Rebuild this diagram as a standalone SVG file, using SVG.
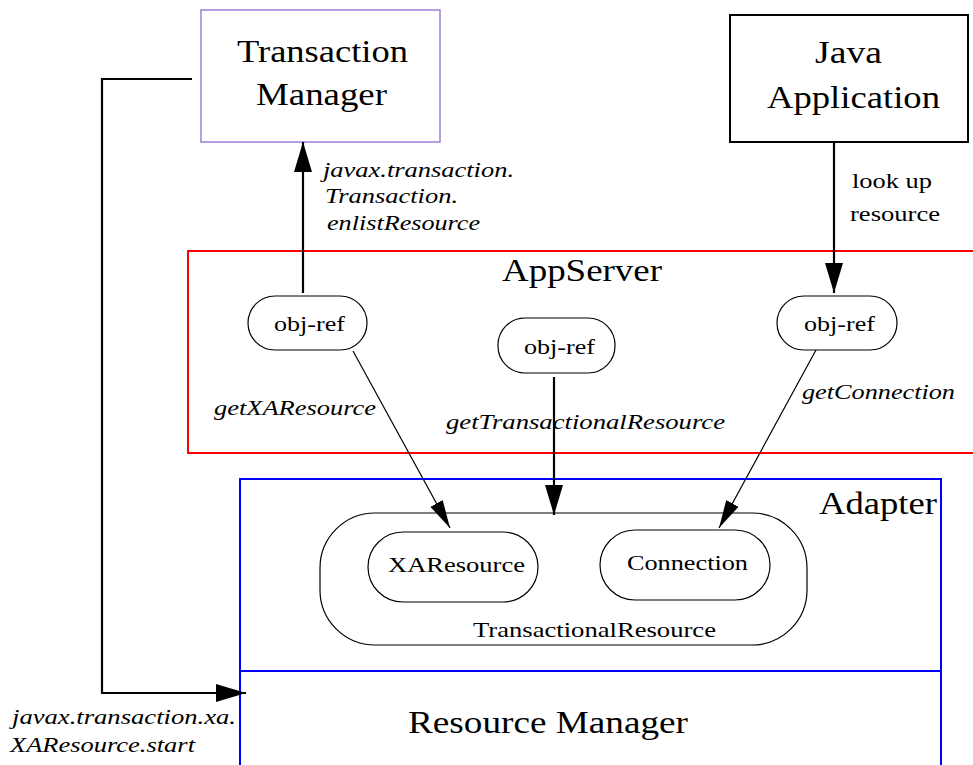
<svg xmlns="http://www.w3.org/2000/svg" width="973" height="765" viewBox="0 0 973 765">
<style>
text{font-family:'Liberation Serif','Times New Roman','DejaVu Serif',serif;fill:#000}
.big{font-size:31px}
.mid{font-size:22px}
.sm{font-size:21px}
.it{font-style:italic;font-size:22px}
.pill{fill:#fff;stroke:#000;stroke-width:1.2}
.thick{fill:none;stroke:#000;stroke-width:2.2}
.thin{fill:none;stroke:#000;stroke-width:1.2}
</style>
<defs>
<marker id="ah" viewBox="0 0 30 18" refX="30" refY="9" markerWidth="30" markerHeight="18" markerUnits="userSpaceOnUse" orient="auto"><path d="M0,0 L30,9 L0,18 Z" fill="#000"/></marker>
<marker id="ahs" viewBox="0 0 28 14" refX="28" refY="7" markerWidth="28" markerHeight="14" markerUnits="userSpaceOnUse" orient="auto"><path d="M0,0 L28,7 L0,14 Z" fill="#000"/></marker>
</defs>
<rect width="973" height="765" fill="#fff"/>
<g id="appserver">
<path d="M975,251 L188,251 L188,453 L975,453" fill="none" stroke="#f00" stroke-width="2"/>
<text class="big" x="502" y="281" textLength="160" lengthAdjust="spacingAndGlyphs">AppServer</text>
</g>
<g id="adapter">
<path d="M240,770 L240,479 L941,479 L941,770" fill="none" stroke="#00f" stroke-width="2"/>
<text class="big" x="819" y="514" textLength="118" lengthAdjust="spacingAndGlyphs">Adapter</text>
</g>
<g id="resource-manager">
<line x1="240" y1="671" x2="941" y2="671" stroke="#00f" stroke-width="2"/>
<text class="big" x="408" y="733" textLength="280" lengthAdjust="spacingAndGlyphs">Resource Manager</text>
</g>
<g id="transaction-manager">
<rect x="201" y="10" width="239" height="132" fill="#fff" stroke="#9b80d8" stroke-width="1.5"/>
<text class="big" x="237" y="62" textLength="171" lengthAdjust="spacingAndGlyphs">Transaction</text>
<text class="big" x="256" y="105" textLength="131" lengthAdjust="spacingAndGlyphs">Manager</text>
</g>
<g id="java-application">
<rect x="730" y="15" width="238" height="127" fill="#fff" stroke="#000" stroke-width="2"/>
<text class="big" x="815" y="63" textLength="67" lengthAdjust="spacingAndGlyphs">Java</text>
<text class="big" x="767" y="108" textLength="173" lengthAdjust="spacingAndGlyphs">Application</text>
</g>
<g id="objref1">
<rect class="pill" x="248" y="296" width="119" height="54" rx="27"/>
<text class="mid" x="274" y="331" textLength="71" lengthAdjust="spacingAndGlyphs">obj-ref</text>
</g>
<g id="objref2">
<rect class="pill" x="498" y="318" width="117" height="55" rx="27"/>
<text class="mid" x="524" y="354" textLength="71" lengthAdjust="spacingAndGlyphs">obj-ref</text>
</g>
<g id="objref3">
<rect class="pill" x="777" y="296" width="120" height="54" rx="27"/>
<text class="mid" x="804" y="331" textLength="71" lengthAdjust="spacingAndGlyphs">obj-ref</text>
</g>
<g id="transactional-resource">
<rect class="pill" x="320" y="513" width="487" height="132" rx="55"/>
<text class="sm" x="473" y="637" textLength="243" lengthAdjust="spacingAndGlyphs">TransactionalResource</text>
</g>
<g id="xaresource">
<rect class="pill" x="368" y="532" width="170" height="70" rx="35"/>
<text class="sm" x="388" y="572" textLength="137" lengthAdjust="spacingAndGlyphs">XAResource</text>
</g>
<g id="connection">
<rect class="pill" x="600" y="530" width="170" height="70" rx="35"/>
<text class="sm" x="627" y="570" textLength="121" lengthAdjust="spacingAndGlyphs">Connection</text>
</g>
<g id="connectors">
<path class="thick" d="M192,79 L102,79 L102,693 L246,693" marker-end="url(#ah)"/>
<line class="thick" x1="303" y1="293" x2="303" y2="142" marker-end="url(#ah)"/>
<line class="thick" x1="834" y1="142" x2="834" y2="293" marker-end="url(#ah)"/>
<line class="thin" x1="353" y1="351" x2="450" y2="528" marker-end="url(#ahs)"/>
<line class="thick" x1="554" y1="377" x2="554" y2="515" marker-end="url(#ah)"/>
<line class="thin" x1="816" y1="350" x2="719" y2="528" marker-end="url(#ahs)"/>
</g>
<g id="labels">
<text class="it" x="323" y="177" textLength="191" lengthAdjust="spacingAndGlyphs">javax.transaction.</text>
<text class="it" x="325" y="203" textLength="133" lengthAdjust="spacingAndGlyphs">Transaction.</text>
<text class="it" x="327" y="230" textLength="153" lengthAdjust="spacingAndGlyphs">enlistResource</text>
<text class="sm" x="852" y="188" textLength="80" lengthAdjust="spacingAndGlyphs">look up</text>
<text class="sm" x="850" y="221" textLength="90" lengthAdjust="spacingAndGlyphs">resource</text>
<text class="it" x="214" y="415" textLength="162" lengthAdjust="spacingAndGlyphs">getXAResource</text>
<text class="it" x="446" y="429" textLength="279" lengthAdjust="spacingAndGlyphs">getTransactionalResource</text>
<text class="it" x="802" y="399" textLength="153" lengthAdjust="spacingAndGlyphs">getConnection</text>
<text class="it" x="12" y="724" textLength="224" lengthAdjust="spacingAndGlyphs">javax.transaction.xa.</text>
<text class="it" x="10" y="752" textLength="185" lengthAdjust="spacingAndGlyphs">XAResource.start</text>
</g>
</svg>
